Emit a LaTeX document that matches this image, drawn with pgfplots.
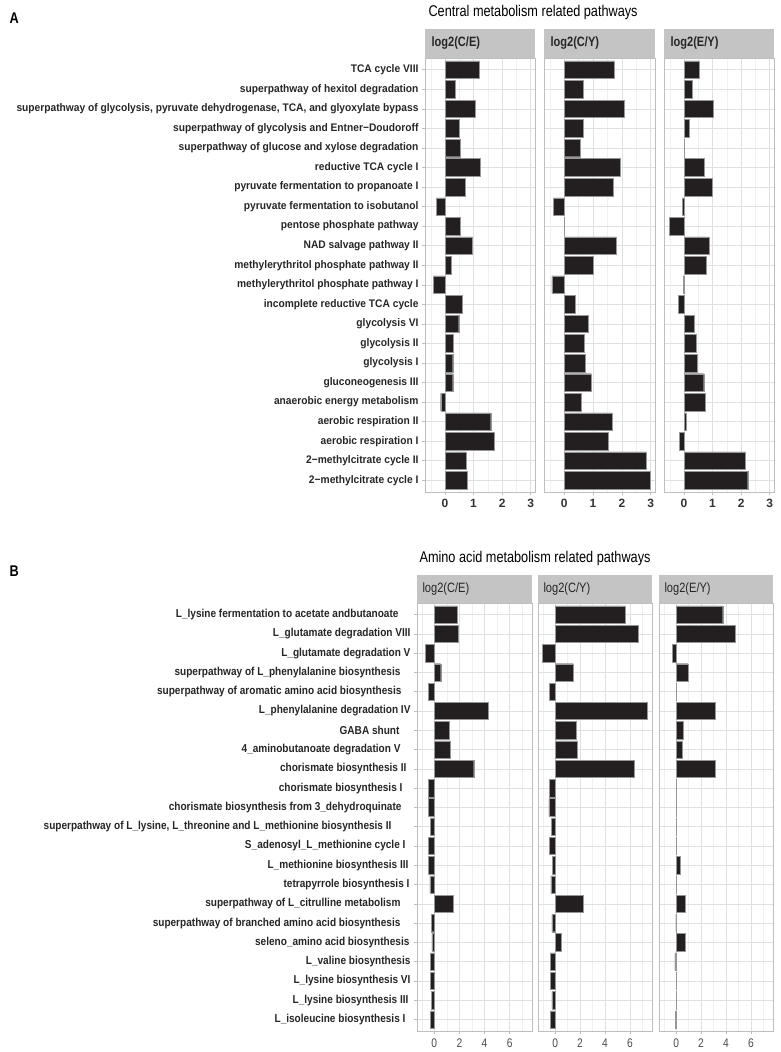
\documentclass[border=0pt]{standalone}
\usepackage{fontspec}
\setmainfont{Liberation Sans}
\usepackage{graphicx}
\usepackage{pgfplots}
\usepackage{pgfplotstable}
\pgfplotsset{compat=1.18}
\definecolor{barfill}{RGB}{35,31,32}
\definecolor{barline}{RGB}{150,150,150}
\definecolor{stripc}{RGB}{196,196,196}
\definecolor{gridmaj}{RGB}{224,224,224}
\definecolor{gridmin}{RGB}{240,240,240}
\definecolor{bordc}{RGB}{190,190,190}
\newcommand\lab[1]{\scalebox{0.82}[1]{#1}}
\newcommand\laba[1]{\scalebox{0.93}[1]{#1}}
\newcommand\labb[1]{\scalebox{0.875}[1]{#1}}
\newcommand\tsp[1]{\hspace*{#1pt}}

\pgfplotstableread{
y ce cy ey
22 1.21 1.72 0.52
21 0.37 0.66 0.30
20 1.07 2.07 1.01
19 0.51 0.67 0.17
18 0.53 0.55 0.01
17 1.24 1.93 0.70
16 0.70 1.69 0.99
15 -0.30 -0.37 -0.07
14 0.53 0.01 -0.52
13 0.95 1.81 0.87
12 0.22 1.00 0.78
11 -0.41 -0.43 -0.03
10 0.59 0.38 -0.19
9 0.48 0.83 0.37
8 0.30 0.71 0.42
7 0.27 0.72 0.47
6 0.27 0.93 0.69
5 -0.15 0.58 0.74
4 1.60 1.66 0.08
3 1.72 1.53 -0.16
2 0.73 2.84 2.13
1 0.77 2.98 2.23
}\dataA

\pgfplotstableread{
y ce cy ey
22 1.86 5.64 3.74
21 1.94 6.71 4.73
20 -0.69 -1.02 -0.32
19 0.51 1.47 0.94
18 -0.45 -0.45 0.01
17 4.28 7.41 3.10
16 1.20 1.71 0.53
15 1.25 1.79 0.51
14 3.14 6.36 3.16
13 -0.48 -0.48 0.01
12 -0.50 -0.51 0.01
11 -0.32 -0.30 0.01
10 -0.48 -0.45 0.02
9 -0.48 -0.24 0.29
8 -0.35 -0.35 0.02
7 1.54 2.25 0.75
6 -0.21 -0.27 -0.02
5 -0.19 0.45 0.72
4 -0.29 -0.40 -0.10
3 -0.29 -0.37 0.01
2 -0.21 -0.27 0.01
1 -0.29 -0.40 -0.08
}\dataB

\pgfplotsset{
  facet/.style={
    scale only axis,
    axis line style={draw=bordc, line width=0.6pt},
    grid=both,
    major grid style={draw=gridmaj, line width=0.5pt},
    minor grid style={draw=gridmin, line width=0.35pt},
    tick align=outside, major tick length=3pt, minor tick length=0pt,
    tick style={draw=bordc, line width=0.5pt},
    xtick pos=left, ytick pos=left,
    ytick={1,...,22}, ymin=0.4, ymax=22.6,
    /pgf/number format/assume math mode=true,
    anchor=north west,
  },
  faceta/.style={facet,
    height=434pt, xmin=-0.7, xmax=3.15,
    xtick={0,1,2,3}, minor xtick={-0.5,0.5,1.5,2.5},
    xticklabel style={font=\bfseries\fontsize{12}{12}\selectfont, text=black!80, yshift=-1pt},
  },
  facetb/.style={facet,
    height=428pt, xmin=-1.38, xmax=7.78,
    xtick={0,2,4,6}, minor xtick={-1,1,3,5,7},
    xticklabel style={font=\fontsize{12.5}{12.5}\selectfont, text=black!70, yshift=-1pt},
    xticklabel={\lab{\pgfmathprintnumber{\tick}}},
  },
  noy/.style={yticklabels={}, major y tick style={draw=none}},
  bars/.style={xbar, bar width=0.9, fill=barfill, draw=barline, line width=0.4pt, bar shift=0pt},
}

\begin{document}
\begin{tikzpicture}
\useasboundingbox (0,0) rectangle (780pt,1052pt);

% ---------- Panel A ----------
\node[anchor=base west, font=\bfseries\fontsize{15.5}{15.5}\selectfont] at (6pt,1052pt-24pt) {\lab{A}};
\node[anchor=base west, font=\fontsize{15.5}{15.5}\selectfont, text=black] at (425pt,1052pt-17pt) {\lab{Central metabolism related pathways}};

\begin{axis}[faceta, name=a1, at={(425pt,994pt)}, width=110pt,
  yticklabel style={font=\bfseries\fontsize{11}{11}\selectfont, text=black!85},
  yticklabels={
    \laba{2−methylcitrate cycle I},
    \laba{2−methylcitrate cycle II},
    \laba{aerobic respiration I},
    \laba{aerobic respiration II},
    \laba{anaerobic energy metabolism},
    \laba{gluconeogenesis III},
    \laba{glycolysis I},
    \laba{glycolysis II},
    \laba{glycolysis VI},
    \laba{incomplete reductive TCA cycle},
    \laba{methylerythritol phosphate pathway I},
    \laba{methylerythritol phosphate pathway II},
    \laba{NAD salvage pathway II},
    \laba{pentose phosphate pathway},
    \laba{pyruvate fermentation to isobutanol},
    \laba{pyruvate fermentation to propanoate I},
    \laba{reductive TCA cycle I},
    \laba{superpathway of glucose and xylose degradation},
    \laba{superpathway of glycolysis and Entner−Doudoroff},
    \laba{superpathway of glycolysis, pyruvate dehydrogenase, TCA, and glyoxylate bypass},
    \laba{superpathway of hexitol degradation},
    \laba{TCA cycle VIII}
  }]
\addplot[bars] table[x=ce, y=y] {\dataA};
\end{axis}
\begin{axis}[faceta, noy, name=a2, at={(544pt,994pt)}, width=111pt]
\addplot[bars] table[x=cy, y=y] {\dataA};
\end{axis}
\begin{axis}[faceta, noy, name=a3, at={(664pt,994pt)}, width=110pt]
\addplot[bars] table[x=ey, y=y] {\dataA};
\end{axis}

\foreach \n/\t in {a1/C\slash E, a2/C\slash Y, a3/E\slash Y}{
  \fill[stripc] (\n.north west) rectangle ([yshift=29pt]\n.north east);
  \node[anchor=west, font=\bfseries\fontsize{13.5}{13.5}\selectfont, text=black!85] at ([xshift=3pt, yshift=14.5pt]\n.north west) {\lab{log2(\t)}};
}

% ---------- Panel B ----------
\node[anchor=base west, font=\bfseries\fontsize{15.5}{15.5}\selectfont] at (6pt,1052pt-577pt) {\lab{B}};
\node[anchor=base west, font=\fontsize{15.5}{15.5}\selectfont, text=black] at (416pt,1052pt-563pt) {\lab{Amino acid metabolism related pathways}};

\begin{axis}[facetb, name=b1, at={(417pt,449pt)}, width=115pt,
  yticklabel style={font=\bfseries\fontsize{11.5}{11.5}\selectfont, text=black!85},
  yticklabels={
    \labb{L\_isoleucine biosynthesis I}\tsp{5},
    \labb{L\_lysine biosynthesis III}\tsp{2},
    \labb{L\_lysine biosynthesis VI},
    \labb{L\_valine biosynthesis},
    \labb{seleno\_amino acid biosynthesis}\tsp{1},
    \labb{superpathway of branched amino acid biosynthesis}\tsp{10},
    \labb{superpathway of L\_citrulline metabolism}\tsp{10},
    \labb{tetrapyrrole biosynthesis I}\tsp{1},
    \labb{L\_methionine biosynthesis III}\tsp{2},
    \labb{S\_adenosyl\_L\_methionine cycle I}\tsp{5},
    \labb{superpathway of L\_lysine, L\_threonine and L\_methionine biosynthesis II}\tsp{19},
    \labb{chorismate biosynthesis from 3\_dehydroquinate}\tsp{9},
    \labb{chorismate biosynthesis I}\tsp{8},
    \labb{chorismate biosynthesis II}\tsp{4},
    \labb{4\_aminobutanoate degradation V}\tsp{10},
    \labb{GABA shunt}\tsp{11},
    \labb{L\_phenylalanine degradation IV},
    \labb{superpathway of aromatic amino acid biosynthesis}\tsp{9},
    \labb{superpathway of L\_phenylalanine biosynthesis}\tsp{10},
    \labb{L\_glutamate degradation V},
    \labb{L\_glutamate degradation VIII},
    \labb{L\_lysine fermentation to acetate andbutanoate}\tsp{12}
  }]
\addplot[bars] table[x=ce, y=y] {\dataB};
\end{axis}
\begin{axis}[facetb, noy, name=b2, at={(538pt,449pt)}, width=114pt]
\addplot[bars] table[x=cy, y=y] {\dataB};
\end{axis}
\begin{axis}[facetb, noy, name=b3, at={(659pt,449pt)}, width=114pt]
\addplot[bars] table[x=ey, y=y] {\dataB};
\end{axis}

\foreach \n/\t in {b1/C\slash E, b2/C\slash Y, b3/E\slash Y}{
  \fill[stripc] (\n.north west) rectangle ([yshift=28pt]\n.north east);
  \node[anchor=west, font=\fontsize{13.5}{13.5}\selectfont, text=black!85] at ([xshift=2pt, yshift=14pt]\n.north west) {\lab{log2(\t)}};
}
\end{tikzpicture}
\end{document}
